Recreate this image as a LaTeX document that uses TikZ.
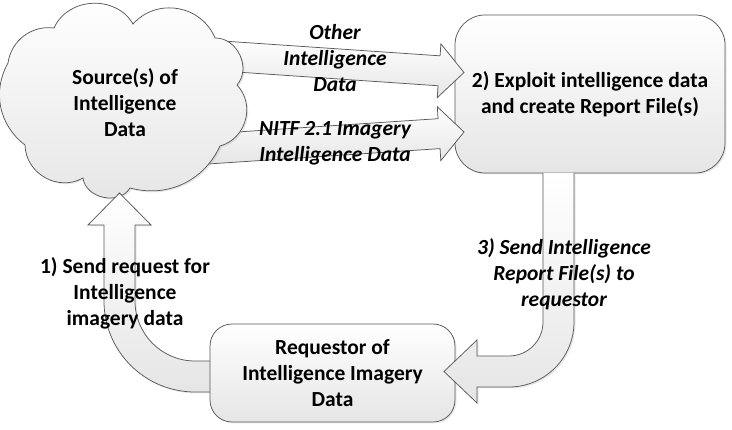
\documentclass[tikz,border=0pt]{standalone}
\usepackage{fontspec}
\setmainfont{Carlito}
\usetikzlibrary{calc,shadows}
\tikzset{
  outl/.style={draw=black!65, line width=0.75pt},
  shfill/.style={top color=white, bottom color=black!10},
  shad/.style={drop shadow={opacity=0.18, shadow xshift=1.5pt, shadow yshift=-1.5pt}},
  lbl/.style={font=\fontsize{21.5}{26}\selectfont\bfseries, align=center, inner sep=0pt, text=black},
  ilbl/.style={lbl, font=\fontsize{21.5}{26}\selectfont\bfseries\itshape},
  boxnode/.style={outl, shfill, shad, rounded corners=#1, inner sep=0pt, lbl},
}
\begin{document}
\begin{tikzpicture}[x=1pt,y=-1pt]
\useasboundingbox (0,0) rectangle (732,430);

% boxes
\node[boxnode=30pt, minimum width=270pt, minimum height=158pt] (expl) at (590,94) {2) Exploit intelligence data\\and create Report File(s)};

% arrow A (other intelligence data)
\coordinate (SA) at (200,54.5);
\coordinate (TA) at (464,72.5);
\coordinate (BA) at ($(TA)!25pt!(SA)$);
\path[outl, shfill] ($(SA)!15pt!90:(TA)$) -- ($(BA)!15pt!-90:(SA)$) -- ($(BA)!27pt!-90:(SA)$) -- (TA)
  -- ($(BA)!27pt!90:(SA)$) -- ($(BA)!15pt!90:(SA)$) -- ($(SA)!15pt!-90:(TA)$) -- cycle;

% arrow B (NITF)
\coordinate (SB) at (200,149.5);
\coordinate (TB) at (464,132);
\coordinate (BB) at ($(TB)!25pt!(SB)$);
\path[outl, shfill] ($(SB)!15pt!90:(TB)$) -- ($(BB)!15pt!-90:(SB)$) -- ($(BB)!27pt!-90:(SB)$) -- (TB)
  -- ($(BB)!27pt!90:(SB)$) -- ($(BB)!15pt!90:(SB)$) -- ($(SB)!15pt!-90:(TB)$) -- cycle;

% cloud
\coordinate (c1) at (8,63);
\coordinate (c2) at (54,28);
\coordinate (c3) at (133,24);
\coordinate (c4) at (215,38);
\coordinate (c5) at (237,85);
\coordinate (c6) at (220,146);
\coordinate (c7) at (130,188);
\coordinate (c8) at (83,178);
\coordinate (c9) at (25,145);
\path[outl, shfill, shad] (c1) to[bend left=45] (c2) to[bend left=63, looseness=1.1] (c3)
  to[bend left=58, looseness=1.1] (c4) to[bend left=66, looseness=1.1] (c5)
  to[bend left=59, looseness=1.1] (c6) to[bend left=40] (c7) to[bend left=71, looseness=1.1] (c8)
  to[bend left=59, looseness=1.1] (c9) to[bend left=41] (c1) -- cycle;
\node[lbl] (src) at (125,103) {Source(s) of\\Intelligence\\Data};

% arrow 1 (request)
\path[outl, shfill, shad] (215,392) -- (195,392) arc[start angle=90, end angle=180, radius=91]
  -- (104,225) -- (88,225) -- (119.5,193) -- (151,225) -- (135,225) -- (135,301)
  arc[start angle=180, end angle=90, radius=60] -- (215,361) -- cycle;

% requestor box
\node[boxnode=22pt, minimum width=245pt, minimum height=98pt] (req) at (332.5,373) {Requestor of\\Intelligence Imagery\\Data};

% arrow 3 (send report)
\path[outl, shfill, shad] (543,173) -- (543,322) arc[start angle=0, end angle=90, radius=34]
  -- (477,356) -- (477,340) -- (444,371.5) -- (477,403) -- (477,387) -- (509,387)
  arc[start angle=90, end angle=0, radius=65] -- (574,173);

% labels
\node[ilbl] (lA) at (335,58.5) {Other\\Intelligence\\Data};
\node[ilbl] (lB) at (335,143.5) {NITF 2.1 Imagery\\Intelligence Data};
\node[lbl] (l1) at (125,293) {1) Send request for\\Intelligence\\imagery data};
\node[ilbl] (l3) at (564,274) {3) Send Intelligence\\Report File(s) to\\requestor};
\end{tikzpicture}
\end{document}
